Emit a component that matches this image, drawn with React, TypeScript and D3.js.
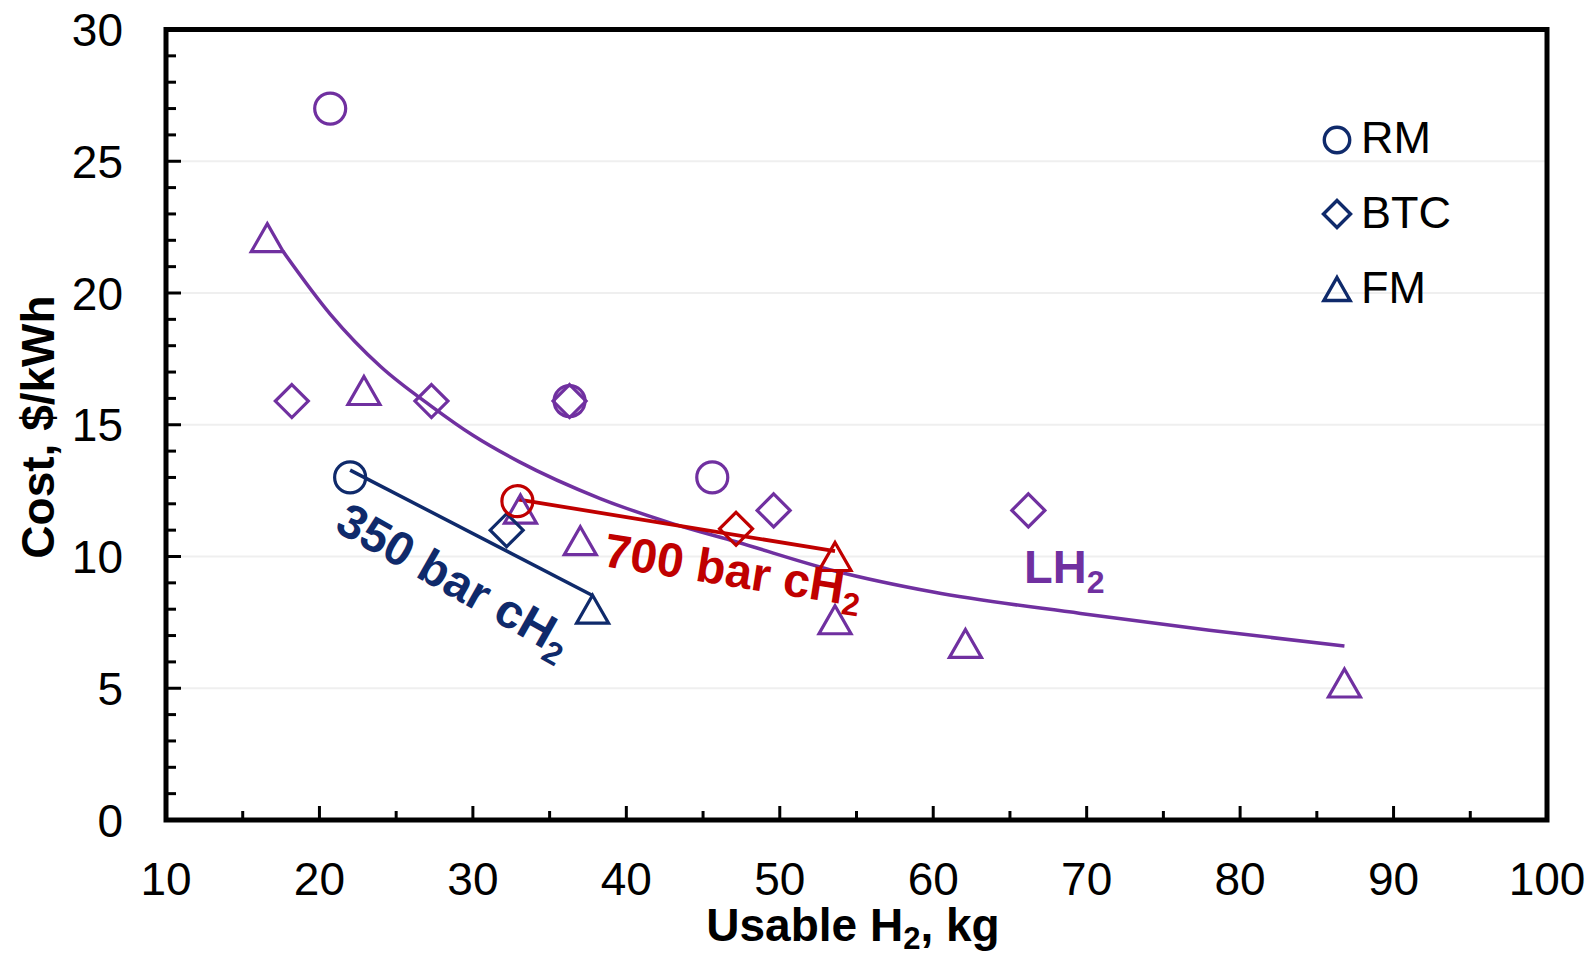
import React from "react";
import * as d3 from "d3";

// ---- data ----
const xTicks = [10, 20, 30, 40, 50, 60, 70, 80, 90, 100];
const yTicks = [0, 5, 10, 15, 20, 25, 30];

// LH2 (purple)
const lh2RM = [
  { x: 20.7, y: 27.0 },
  { x: 36.3, y: 15.9 },
  { x: 45.6, y: 13.0 },
];
const lh2BTC = [
  { x: 18.2, y: 15.9 },
  { x: 27.3, y: 15.9 },
  { x: 36.3, y: 15.9 },
  { x: 49.6, y: 11.75 },
  { x: 66.2, y: 11.75 },
];
const lh2FM = [
  { x: 16.6, y: 22.1 },
  { x: 22.9, y: 16.3 },
  { x: 33.1, y: 11.8 },
  { x: 37.0, y: 10.6 },
  { x: 53.6, y: 7.6 },
  { x: 62.1, y: 6.7 },
  { x: 86.8, y: 5.2 },
];
// LH2 trend curve
const lh2Trend = [
  { x: 17.6, y: 21.6 },
  { x: 20.7, y: 19.2 },
  { x: 24.0, y: 17.2 },
  { x: 27.3, y: 15.7 },
  { x: 30.0, y: 14.6 },
  { x: 33.0, y: 13.6 },
  { x: 38.3, y: 12.2 },
  { x: 43.0, y: 11.25 },
  { x: 47.2, y: 10.55 },
  { x: 53.6, y: 9.45 },
  { x: 60.0, y: 8.65 },
  { x: 69.6, y: 7.84 },
  { x: 78.0, y: 7.2 },
  { x: 86.8, y: 6.6 },
];

// 350 bar cH2 (navy)
const c350RM = [{ x: 22.0, y: 13.0 }];
const c350BTC = [{ x: 32.2, y: 11.0 }];
const c350FM = [{ x: 37.8, y: 8.0 }];
const c350Trend = [
  { x: 22.0, y: 13.28 },
  { x: 37.8, y: 8.52 },
];

// 700 bar cH2 (red)
const c700RM = [{ x: 32.9, y: 12.1 }];
const c700BTC = [{ x: 47.15, y: 11.05 }];
const c700FM = [{ x: 53.6, y: 10.0 }];
const c700Trend = [
  { x: 32.9, y: 12.17 },
  { x: 53.6, y: 10.2 },
];

const legendItems = ["RM", "BTC", "FM"];

// ---- styles ----
const PURPLE = "#7030A0";
const NAVY = "#0f2a6b";
const RED = "#C00000";
const FONT = "'Liberation Sans', Arial, Helvetica, sans-serif";

const W = 1595;
const H = 958;
const L = 166;
const R = 1547;
const T = 29.5;
const B = 820;

const x = d3.scaleLinear().domain([10, 100]).range([L, R]);
const y = d3.scaleLinear().domain([0, 30]).range([B, T]);

type Shape = "circle" | "diamond" | "triangle";

function Marker({ shape, cx, cy, color, s = 1, sw = 3.2 }: { shape: Shape; cx: number; cy: number; color: string; s?: number; sw?: number }) {
  if (shape === "circle") {
    return <circle cx={cx} cy={cy} r={15.5 * s} fill="none" stroke={color} strokeWidth={sw} />;
  }
  if (shape === "diamond") {
    const h = 16.5 * s;
    return (
      <path
        d={`M${cx},${cy - h}L${cx + h},${cy}L${cx},${cy + h}L${cx - h},${cy}Z`}
        fill="none"
        stroke={color}
        strokeWidth={sw}
      />
    );
  }
  const hw = 16 * s;
  const hh = 14 * s;
  return (
    <path
      d={`M${cx},${cy - hh}L${cx + hw},${cy + hh}L${cx - hw},${cy + hh}Z`}
      fill="none"
      stroke={color}
      strokeWidth={sw}
      strokeLinejoin="miter"
    />
  );
}

export default function App() {
  const line = d3
    .line<{ x: number; y: number }>()
    .x((d) => x(d.x))
    .y((d) => y(d.y));
  const curve = d3
    .line<{ x: number; y: number }>()
    .x((d) => x(d.x))
    .y((d) => y(d.y))
    .curve(d3.curveMonotoneX);

  const yMinor = d3.range(0, 31, 1);
  const xMinor = d3.range(15, 100, 10);

  const groups: { data: { x: number; y: number }[]; shape: Shape; color: string }[] = [
    { data: lh2RM, shape: "circle", color: PURPLE },
    { data: lh2BTC, shape: "diamond", color: PURPLE },
    { data: lh2FM, shape: "triangle", color: PURPLE },
    { data: c350RM, shape: "circle", color: NAVY },
    { data: c350BTC, shape: "diamond", color: NAVY },
    { data: c350FM, shape: "triangle", color: NAVY },
    { data: c700RM, shape: "circle", color: RED },
    { data: c700BTC, shape: "diamond", color: RED },
    { data: c700FM, shape: "triangle", color: RED },
  ];

  const legendShapes: Shape[] = ["circle", "diamond", "triangle"];
  const legendY = [140, 214, 289];
  const legendBase = [153, 228, 303];

  return (
    <svg
      width={W}
      height={H}
      style={{ position: "absolute", left: 0, top: 0, background: "#fff" }}
      fontFamily={FONT}
    >
      <rect x={0} y={0} width={W} height={H} fill="#fff" />
      {/* gridlines */}
      {yTicks
        .filter((t) => t > 0 && t < 30)
        .map((t) => (
          <line key={"g" + t} x1={L} x2={R} y1={y(t)} y2={y(t)} stroke="#efefef" strokeWidth={2} />
        ))}

      {/* y ticks */}
      {yMinor.map((t) => (
        <line
          key={"yt" + t}
          x1={L}
          x2={L + (t % 5 === 0 ? 15 : 10)}
          y1={y(t)}
          y2={y(t)}
          stroke="#000"
          strokeWidth={3}
        />
      ))}
      {/* x ticks */}
      {xTicks.map((t) => (
        <line key={"xt" + t} x1={x(t)} x2={x(t)} y1={B} y2={B - 14} stroke="#000" strokeWidth={3} />
      ))}
      {xMinor.map((t) => (
        <line key={"xm" + t} x1={x(t)} x2={x(t)} y1={B} y2={B - 9} stroke="#000" strokeWidth={3} />
      ))}

      {/* frame */}
      <rect x={L} y={T} width={R - L} height={B - T} fill="none" stroke="#000" strokeWidth={5} />

      {/* tick labels */}
      {yTicks.map((t) => (
        <text key={"yl" + t} x={123} y={y(t) + 16.5} fontSize={46} textAnchor="end" fill="#000">
          {t}
        </text>
      ))}
      {xTicks.map((t) => (
        <text key={"xl" + t} x={x(t)} y={895} fontSize={46} textAnchor="middle" fill="#000">
          {t}
        </text>
      ))}

      {/* axis titles */}
      <text x={853} y={941} fontSize={46} fontWeight="bold" textAnchor="middle" fill="#000">
        Usable H<tspan fontSize={31} dy={8}>2</tspan>
        <tspan dy={-8}>, kg</tspan>
      </text>
      <text
        transform={`translate(54,427) rotate(-90)`}
        fontSize={46}
        fontWeight="bold"
        textAnchor="middle"
        fill="#000"
      >
        Cost, $/kWh
      </text>

      {/* trend lines */}
      <path d={curve(lh2Trend) || ""} fill="none" stroke={PURPLE} strokeWidth={3.5} />
      <path d={line(c350Trend) || ""} fill="none" stroke={NAVY} strokeWidth={3.5} />
      <path d={line(c700Trend) || ""} fill="none" stroke={RED} strokeWidth={3.8} />

      {/* markers */}
      {groups.map((g, gi) =>
        g.data.map((d, i) => (
          <Marker key={gi + "-" + i} shape={g.shape} cx={x(d.x)} cy={y(d.y)} color={g.color} />
        ))
      )}

      {/* annotations */}
      <text
        transform={`translate(333,530) rotate(29.5)`}
        fontSize={48}
        fontWeight="bold"
        fill={NAVY}
      >
        350 bar cH<tspan fontSize={32} dy={10}>2</tspan>
      </text>
      <text
        transform={`translate(602,566) rotate(9)`}
        fontSize={48}
        fontWeight="bold"
        fill={RED}
      >
        700 bar cH<tspan fontSize={32} dy={10}>2</tspan>
      </text>
      <text x={1024} y={583} fontSize={47} fontWeight="bold" fill={PURPLE}>
        LH<tspan fontSize={32} dy={10}>2</tspan>
      </text>

      {/* legend */}
      {legendItems.map((name, i) => (
        <g key={name}>
          <Marker shape={legendShapes[i]} cx={1337} cy={legendY[i]} color={NAVY} s={0.82} sw={3.4} />
          <text x={1361} y={legendBase[i]} fontSize={45} fill="#000">
            {name}
          </text>
        </g>
      ))}
    </svg>
  );
}
